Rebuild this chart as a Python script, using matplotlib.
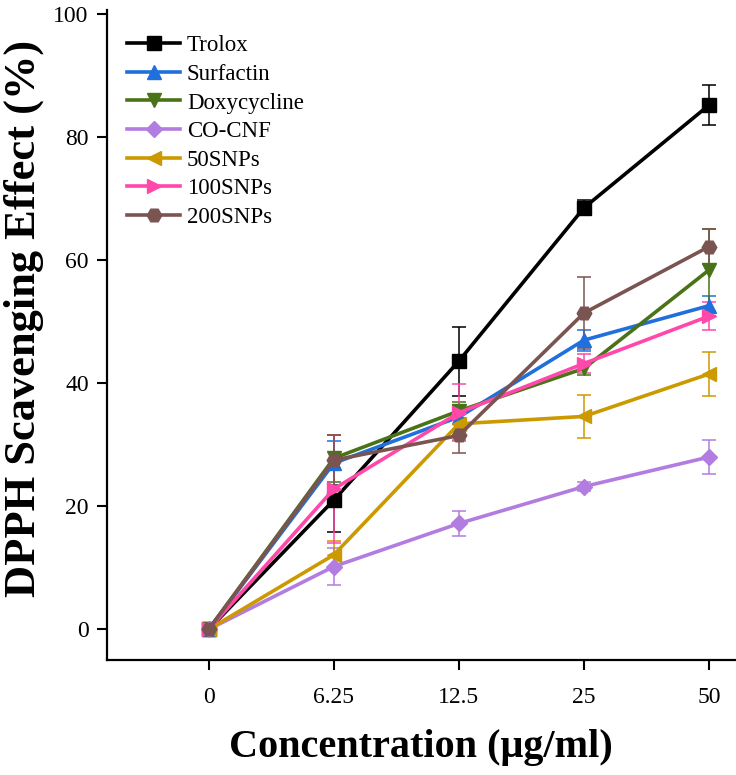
import numpy as np
import matplotlib
matplotlib.use("Agg")
import matplotlib.pyplot as plt

plt.rcParams['font.family'] = ['Liberation Serif', 'DejaVu Serif']

conc = ['0', '6.25', '12.5', '25', '50']

names = ['Trolox', 'Surfactin', 'Doxycycline', 'CO-CNF', '50SNPs', '100SNPs', '200SNPs']

trolox = [0, 21.0, 43.6, 68.5, 85.2]
trolox_err = [0, 5.2, 5.6, 1.2, 3.3]
surfactin = [0, 27.0, 34.5, 47.0, 52.6]
surfactin_err = [0, 3.6, 2.0, 1.7, 1.6]
doxy = [0, 27.8, 35.5, 42.4, 58.4]
doxy_err = [0, 3.8, 1.5, 1.0, 6.6]
cocnf = [0, 10.2, 17.2, 23.2, 28.0]
cocnf_err = [0, 3.0, 2.1, 0.8, 2.8]
snp50 = [0, 12.1, 33.4, 34.6, 41.5]
snp50_err = [0, 2.2, 2.6, 3.5, 3.5]
snp100 = [0, 22.8, 35.2, 43.2, 50.9]
snp100_err = [0, 8.7, 4.6, 1.5, 2.3]
snp200 = [0, 27.5, 31.5, 51.4, 62.2]
snp200_err = [0, 4.0, 2.9, 5.8, 2.8]

series = [trolox, surfactin, doxy, cocnf, snp50, snp100, snp200]
errors = [trolox_err, surfactin_err, doxy_err, cocnf_err, snp50_err, snp100_err, snp200_err]
colors = ['#000000', '#1f70dc', '#4a7318', '#b27ce0', '#cc9a00', '#ff48aa', '#7a5450']
markers = ['s', '^', 'v', 'D', '<', '>', 'H']
msizes = [9.5, 10.5, 10.5, 8.5, 10.5, 10.5, 10.5]

fig = plt.figure(figsize=(7.36, 7.75), dpi=100)
ax = fig.add_axes([0.145, 0.148, 0.855, 0.839])

x = np.arange(len(conc))
handles = []
for vals, err, c, m, ms, name in zip(series, errors, colors, markers, msizes, names):
    eb = ax.errorbar(x, vals, yerr=err, color=c, marker=m, markersize=ms, linewidth=2.6,
                     elinewidth=1.1, capsize=5, capthick=1.1, label=name)
    handles.append(eb.lines[0])

ax.set_xlim(-0.816, 4.216)
ax.set_ylim(-5.04, 100.65)
ax.set_xticks(x)
ax.set_xticklabels(conc)
ax.set_yticks([0, 20, 40, 60, 80, 100])

ax.spines['top'].set_visible(False)
ax.spines['right'].set_visible(False)
ax.spines['left'].set_linewidth(1.6)
ax.spines['bottom'].set_linewidth(1.6)
ax.tick_params(axis='both', direction='out', length=7, width=1.5, labelsize=17, pad=6)
ax.tick_params(axis='x', pad=12)

ax.set_xlabel('Concentration (\u03bcg/ml)', fontsize=29, fontweight='bold', labelpad=15)
ax.set_ylabel('DPPH Scavenging Effect (%)', fontsize=32, fontweight='bold')
ax.yaxis.set_label_coords(-0.1, 0.525)

ax.legend(handles, names, loc='upper left', bbox_to_anchor=(0.0, 0.993), frameon=False,
          fontsize=16.5, handlelength=2.3, labelspacing=0.33, handletextpad=0.3)

fig.savefig('out.png', dpi=100)
